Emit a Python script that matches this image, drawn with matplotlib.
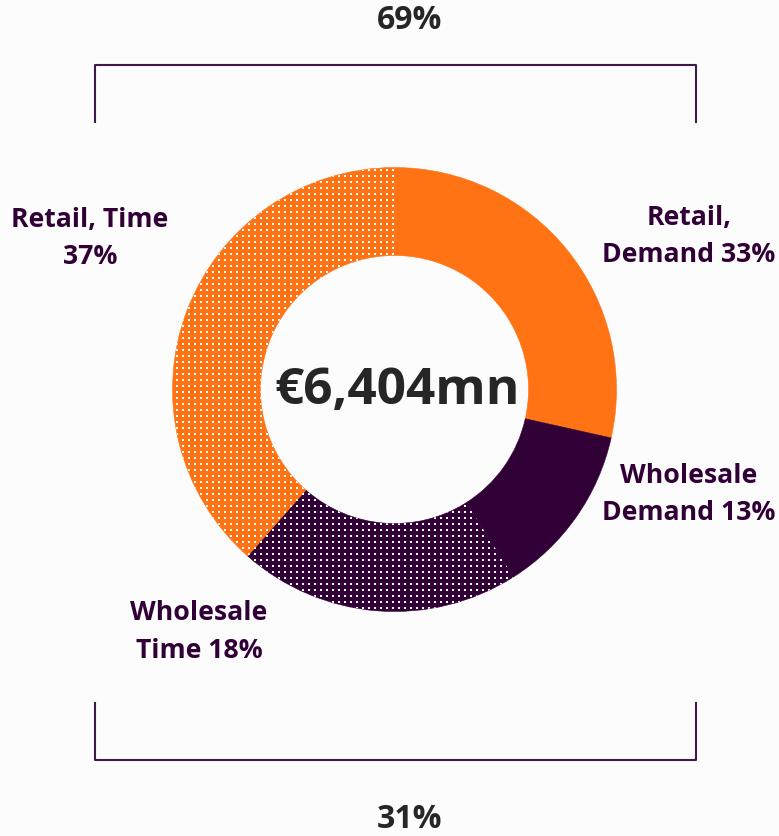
import numpy as np
import matplotlib
matplotlib.use('Agg')
import matplotlib.pyplot as plt

# segment shares as drawn (clockwise from 12 o'clock)
segments = ['Retail, Demand', 'Wholesale Demand', 'Wholesale Time', 'Retail, Time']
shares = [28.5, 12.5, 20.5, 38.5]
label_texts = ['Retail,\nDemand 33%', 'Wholesale\nDemand 13%', 'Wholesale\nTime 18%', 'Retail, Time\n37%']
dotted = [False, False, True, True]
total_label = '€6,404mn'
retail_share = '69%'
wholesale_share = '31%'

ORANGE = '#FF7315'
PURPLE = '#300036'
colors = [ORANGE, PURPLE, PURPLE, ORANGE]

W, H = 779, 837
fig = plt.figure(figsize=(W / 100, H / 100), dpi=100, facecolor='#fcfcfc')
ax = fig.add_axes([0, 0, 1, 1])
ax.set_facecolor('#fcfcfc')

def Y(y):
    # picture coords (top-left origin) -> data coords
    return H - y

cx, cy, r_out, r_in = 394.5, 390.5, 222, 134
wedges, _ = ax.pie(shares, colors=colors, startangle=90, counterclock=False,
                   radius=r_out, center=(cx, Y(cy)),
                   wedgeprops=dict(width=r_out - r_in, linewidth=0))
for w, c in zip(wedges, colors):
    w.set_edgecolor(c)
    w.set_linewidth(0.4)

# white dot texture for the "Time" segments
tex = np.zeros((H, W, 4))
for dy in (2, 3):
    for dx in (2, 3):
        tex[dy::6, dx::6] = [1, 1, 1, 1]
for w, d in zip(wedges, dotted):
    if d:
        im = ax.imshow(tex, extent=(0, W, 0, H), origin='upper',
                       interpolation='nearest', zorder=3)
        im.set_clip_path(w)

ax.set_xlim(0, W)
ax.set_ylim(0, H)
ax.set_aspect('auto')
ax.axis('off')

font = 'Open Sans'
txt_col = '#300036'
label_pos = [(689, 237), (689, 495), (199, 632), (90, 239)]
for (x, y), t in zip(label_pos, label_texts):
    ax.text(x, Y(y), t, ha='center', va='center', fontsize=19.2, fontweight='bold',
            family=font, color=txt_col, linespacing=1.55)

ax.text(397, Y(391), total_label, ha='center', va='center', fontsize=37,
        fontweight='bold', family=font, color='#262626')

# brackets
br_col = '#3d1a48'
ax.plot([95, 95, 696, 696], [Y(123), Y(66), Y(66), Y(123)], color=br_col, lw=1.5)
ax.plot([95, 95, 696, 696], [Y(704), Y(761), Y(761), Y(704)], color=br_col, lw=1.5)
ax.text(410, Y(20), retail_share, ha='center', va='center', fontsize=23,
        fontweight='bold', family=font, color='#262626')
ax.text(410, Y(820), wholesale_share, ha='center', va='center', fontsize=23,
        fontweight='bold', family=font, color='#262626')

fig.savefig('out.png', dpi=100, facecolor=fig.get_facecolor())
